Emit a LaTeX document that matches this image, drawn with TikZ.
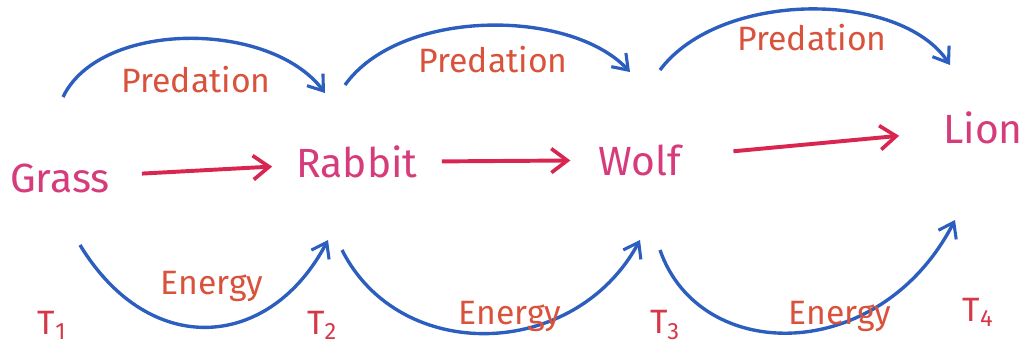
\documentclass[tikz,border=0pt]{standalone}
\usepackage{fontspec}
\setmainfont{Fira Sans}
\usetikzlibrary{arrows.meta}

\definecolor{orgpink}{HTML}{D63C7C}
\definecolor{feedred}{HTML}{D92650}
\definecolor{arcblue}{HTML}{2B5EBE}
\definecolor{lblorange}{HTML}{D9533C}
\definecolor{tred}{HTML}{D63848}

\tikzset{
	organism/.style={text=orgpink, font=\fontsize{29}{33}\selectfont, inner sep=0pt},
	feed/.style={feedred, line width=2.8pt, -{Straight Barb[length=4mm,width=6mm,line width=2.6pt]}},
	pred/.style={arcblue, line width=2.4pt, -{Straight Barb[length=3.5mm,width=5mm,line width=2.2pt]}},
	arclabel/.style={text=lblorange, font=\fontsize{24}{28}\selectfont},
	tlevel/.style={text=tred, font=\fontsize{24}{28}\selectfont}
}

\begin{document}
\begin{tikzpicture}[x=0.025cm, y=-0.025cm]
	\useasboundingbox (0,0) rectangle (1028,356);
	% trophic levels
	\node[organism] (grass)  at (60,178)  {Grass};
	\node[organism] (rabbit) at (357,162) {Rabbit};
	\node[organism] (wolf)   at (640,160) {Wolf};
	\node[organism] (lion)   at (983,128) {Lion};
	\draw[feed, shorten <=0.8cm, shorten >=0.6cm] (grass) -- (rabbit);
	\draw[feed, shorten <=0.6cm, shorten >=0.7cm] (rabbit) -- (wolf);
	\draw[feed, shorten <=1.3cm, shorten >=1.1cm] (wolf) -- (lion);
	% predation arcs
	\coordinate (pa1) at (63,97);   \coordinate (pb1) at (325,93);
	\coordinate (pa2) at (345,85);  \coordinate (pb2) at (630,72);
	\coordinate (pa3) at (660,70);  \coordinate (pb3) at (950,65);
	\draw[pred] (pa1) .. controls (100,20) and (270,20) .. (pb1);
	\draw[pred] (pa2) .. controls (400,8) and (570,8) .. (pb2);
	\draw[pred] (pa3) .. controls (720,-10) and (900,-10) .. (pb3);
	\node[arclabel] (pl1) at (196,80) {Predation};
	\node[arclabel] (pl2) at (493,60) {Predation};
	\node[arclabel] (pl3) at (812,38) {Predation};
	% energy arcs
	\coordinate (ea1) at (80,245);  \coordinate (eb1) at (328,240);
	\coordinate (ea2) at (342,250); \coordinate (eb2) at (640,240);
	\coordinate (ea3) at (660,250); \coordinate (eb3) at (955,220);
	\draw[pred] (ea1) .. controls (150,360) and (270,350) .. (eb1);
	\draw[pred] (ea2) .. controls (400,365) and (575,360) .. (eb2);
	\draw[pred] (ea3) .. controls (700,365) and (880,365) .. (eb3);
	\node[arclabel] (el1) at (212,286) {Energy};
	\node[arclabel] (el2) at (510,316) {Energy};
	\node[arclabel] (el3) at (840,316) {Energy};
	% labels T
	\node[tlevel] (t1) at (52,325)  {T\textsubscript{1}};
	\node[tlevel] (t2) at (322,325) {T\textsubscript{2}};
	\node[tlevel] (t3) at (665,325) {T\textsubscript{3}};
	\node[tlevel] (t4) at (978,312) {T\textsubscript{4}};
\end{tikzpicture}
\end{document}
